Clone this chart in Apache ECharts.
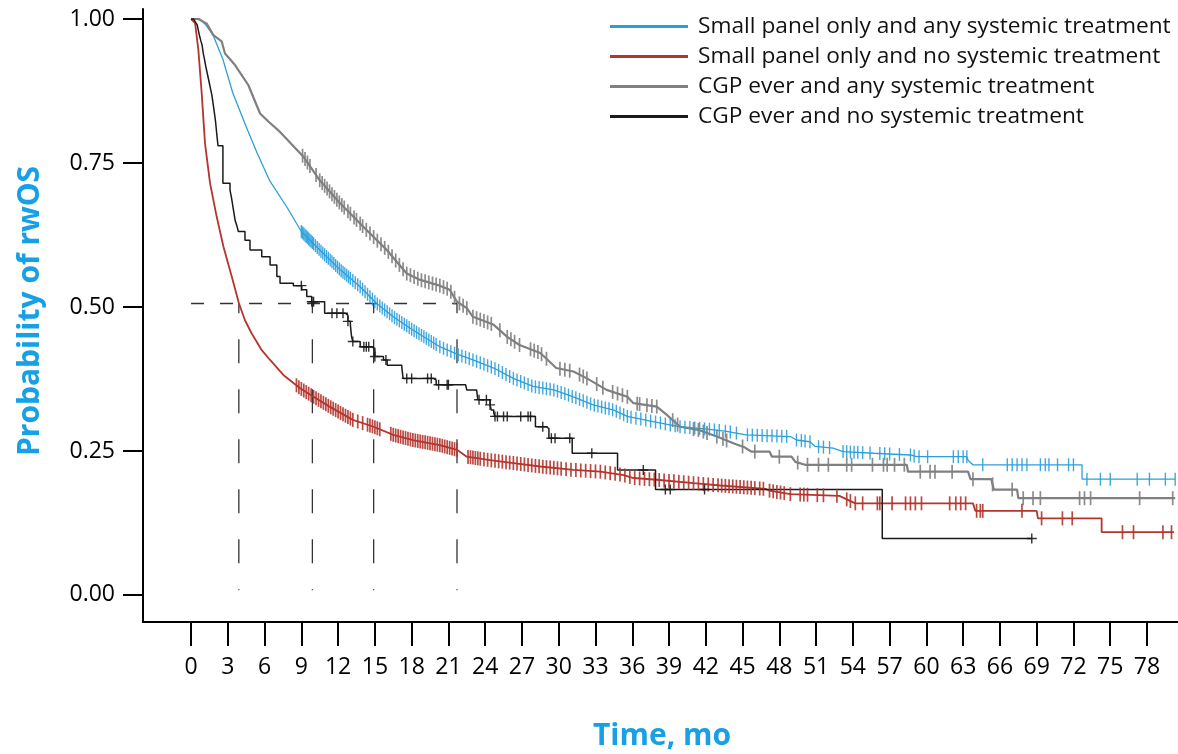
<!DOCTYPE html>
<html><head><meta charset="utf-8">
<script src="https://cdn.jsdelivr.net/npm/echarts@6/dist/echarts.min.js"></script>
<style>html,body{margin:0;padding:0;background:#fff}#c{width:1178px;height:754px}</style>
</head><body><div id="c"></div>
<script>
const seriesNames = [
  'Small panel only and any systemic treatment',
  'Small panel only and no systemic treatment',
  'CGP ever and any systemic treatment',
  'CGP ever and no systemic treatment'
];
const xTicks = [0,3,6,9,12,15,18,21,24,27,30,33,36,39,42,45,48,51,54,57,60,63,66,69,72,75,78];
const yTicks = [0,0.25,0.5,0.75,1];

const blueCurve = [[0,1],[0.7,1.0],[1.2,0.99],[1.8,0.972],[2.6,0.93],[3.4,0.872],[4.5,0.813],[5.4,0.767],[6.4,0.72],[7.8,0.674],[9.0,0.631],[10.5,0.599],[12.2,0.564],[13.8,0.535],[15.1,0.507],[16.5,0.483],[18.1,0.46],[20.3,0.431],[21.7,0.418],[23.0,0.408],[24.7,0.394],[26.3,0.376],[27.9,0.362],[29.6,0.356],[31.2,0.344],[32.8,0.33],[34.5,0.321],[35.6,0.31],[37.7,0.301],[39.9,0.292],[42.1,0.288],[43.7,0.284],[45.3,0.278],[48.9,0.275],[49.4,0.269],[50.5,0.266],[50.9,0.258],[52.4,0.255],[53.2,0.249],[55.7,0.246],[58.7,0.243],[59.2,0.24],[63.3,0.24],[63.4,0.234],[63.8,0.226],[72.7,0.226],[72.7,0.201],[80.3,0.201]];
const redCurve = [[0,1],[0.33,0.993],[0.6,0.946],[0.87,0.871],[1.14,0.784],[1.55,0.715],[2.09,0.657],[2.64,0.605],[3.32,0.553],[3.9,0.507],[4.4,0.477],[4.95,0.454],[5.77,0.425],[6.45,0.408],[7.53,0.382],[8.9,0.359],[10.0,0.344],[11.3,0.327],[13.2,0.304],[14.9,0.292],[16.5,0.278],[18.1,0.269],[20.3,0.26],[21.7,0.252],[22.5,0.24],[24.4,0.234],[26.3,0.229],[28.5,0.223],[31.2,0.217],[33.4,0.214],[35.3,0.208],[36.1,0.203],[38.0,0.2],[41.0,0.194],[43.2,0.19],[46.9,0.184],[47.2,0.181],[48.9,0.175],[52.9,0.172],[54.2,0.159],[63.8,0.159],[64.0,0.146],[69.0,0.146],[69.1,0.133],[74.3,0.133],[74.3,0.109],[80.2,0.109]];
const grayCurve = [[0,1],[0.6,1.0],[1.28,0.992],[1.82,0.972],[2.5,0.961],[2.77,0.94],[3.59,0.92],[4.68,0.885],[5.63,0.836],[6.31,0.822],[7.26,0.804],[9.17,0.761],[10.5,0.72],[12.16,0.68],[14.3,0.634],[15.97,0.599],[17.6,0.558],[18.7,0.547],[20.3,0.537],[21.1,0.53],[21.7,0.509],[22.5,0.498],[23.0,0.483],[24.7,0.469],[25.8,0.448],[26.8,0.434],[28.5,0.42],[29.8,0.394],[31.2,0.388],[32.3,0.376],[33.9,0.356],[35.6,0.344],[36.1,0.333],[38.0,0.327],[38.8,0.313],[39.9,0.292],[41.5,0.286],[42.9,0.275],[44.3,0.263],[45.1,0.257],[45.7,0.249],[47.2,0.249],[47.4,0.24],[49.0,0.24],[49.3,0.231],[50.1,0.226],[58.4,0.226],[58.5,0.214],[63.4,0.214],[63.6,0.201],[65.3,0.201],[65.5,0.183],[67.4,0.183],[67.5,0.168],[80.3,0.168]];
const blackCurve = [[0,1],[0.2,0.999],[0.35,0.995],[0.5,0.99],[0.6,0.98],[0.7,0.97],[0.8,0.962],[0.9,0.955],[1.0,0.94],[1.1,0.93],[1.2,0.918],[1.3,0.908],[1.4,0.898],[1.5,0.888],[1.6,0.878],[1.7,0.868],[1.8,0.853],[1.9,0.838],[2.0,0.822],[2.1,0.8],[2.2,0.78],[2.6,0.715],[3.18,0.703],[3.3,0.69],[3.45,0.67],[3.6,0.65],[3.75,0.64],[3.86,0.631],[4.4,0.616],[4.81,0.599],[5.77,0.587],[6.45,0.573],[7.0,0.553],[7.26,0.541],[8.35,0.537],[9.03,0.53],[9.44,0.518],[9.85,0.509],[10.9,0.489],[12.6,0.486],[12.8,0.475],[13.0,0.469],[13.1,0.448],[13.2,0.44],[13.8,0.431],[14.7,0.428],[15.0,0.414],[15.7,0.408],[16.0,0.399],[17.2,0.395],[17.3,0.376],[19.8,0.373],[20.0,0.365],[22.4,0.362],[22.5,0.356],[23.3,0.353],[23.4,0.339],[24.4,0.33],[24.5,0.321],[24.7,0.316],[24.8,0.31],[28.1,0.292],[29.0,0.289],[29.2,0.272],[31.1,0.246],[34.8,0.217],[37.9,0.183],[56.4,0.098],[68.6,0.098]];

const blueCensor = [9.0,9.1,9.2,9.3,9.4,9.5,9.6,9.7,9.8,9.9,10.0,10.15,10.3,10.45,10.6,10.75,10.9,11.05,11.2,11.35,11.5,11.65,11.8,11.95,12.1,12.25,12.4,12.55,12.7,12.85,13.0,13.2,13.4,13.6,13.8,14.0,14.2,14.4,14.6,14.8,15.0,15.2,15.4,15.6,15.8,16.0,16.2,16.4,16.6,16.8,17.0,17.2,17.4,17.6,17.8,18.0,18.2,18.4,18.6,18.8,19.0,19.2,19.4,19.6,19.8,20.0,20.3,20.6,20.9,21.2,21.5,21.8,22.1,22.4,22.7,23.0,23.3,23.6,23.9,24.2,24.5,24.8,25.1,25.4,25.7,26.0,26.3,26.6,26.9,27.2,27.5,27.8,28.1,28.4,28.7,29.0,29.3,29.6,29.9,30.2,30.5,30.8,31.1,31.4,31.7,32.0,32.3,32.6,32.9,33.2,33.5,33.8,34.1,34.4,34.7,35.0,35.3,35.6,35.9,36.3,36.7,37.1,37.5,37.9,38.3,38.7,39.1,39.5,39.9,40.3,40.7,41.1,41.5,41.9,42.3,42.7,43.1,43.6,44.0,44.5,45.4,45.8,46.2,46.6,47.0,47.4,47.8,48.2,48.6,49.4,49.8,50.1,50.5,51.2,51.6,52.1,53.2,53.5,53.8,54.1,54.4,54.8,55.4,56.2,56.6,57.0,57.8,58.7,59.0,59.4,60.1,62.2,62.6,63.0,63.3,64.6,66.6,67.0,67.4,67.8,68.2,69.3,69.7,70.0,70.7,71.6,72.0,73.1,74.2,75.0,77.2,78.2,79.5,80.3];
const redCensor = [8.6,8.8,9.0,9.2,9.4,9.6,9.8,10.0,10.2,10.4,10.6,10.8,11.0,11.2,11.4,11.6,11.8,12.0,12.2,12.4,12.6,12.8,13.0,13.2,13.6,14.0,14.4,14.6,14.8,15.0,15.2,15.4,16.3,16.5,16.7,16.9,17.1,17.3,17.5,17.7,17.9,18.1,18.3,18.5,18.7,18.9,19.1,19.3,19.5,19.7,19.9,20.1,20.3,20.5,20.7,20.9,21.1,21.3,21.5,21.7,22.6,22.8,23.0,23.2,23.4,23.6,23.9,24.2,24.5,24.8,25.1,25.4,25.7,26.0,26.3,26.6,26.9,27.2,27.5,27.8,28.1,28.4,28.7,29.0,29.3,29.6,29.9,30.2,30.6,31.0,31.4,31.8,32.2,32.6,33.0,33.4,33.8,34.2,34.6,35.0,35.4,35.8,36.2,36.6,37.0,37.4,37.8,38.2,38.6,39.0,39.4,39.8,40.2,40.6,41.0,41.4,41.8,42.2,42.6,43.0,43.3,43.6,43.9,44.2,44.5,44.8,45.1,45.4,45.7,46.0,46.4,46.7,47.2,47.5,47.8,48.1,48.4,48.9,49.7,50.0,50.3,51.1,51.6,52.7,53.5,53.8,54.2,54.8,56.0,56.2,57.2,58.3,58.7,59.1,59.6,61.9,62.4,62.8,63.2,64.1,64.4,64.6,67.8,69.4,71.1,71.9,76.0,76.9,79.3,80.0];
const grayCensor = [9.1,9.3,9.5,9.7,10.2,10.5,10.7,10.9,11.1,11.3,11.5,11.7,11.9,12.1,12.3,12.5,12.8,13.0,13.3,13.5,13.8,14.0,14.3,14.6,14.9,15.2,15.5,15.8,16.1,16.4,16.7,17.0,17.3,17.6,17.9,18.2,18.5,18.8,19.1,19.4,19.7,20.0,20.3,20.6,20.9,21.2,21.5,21.9,22.2,22.5,23.0,23.3,23.6,23.9,24.2,24.5,25.2,25.8,26.1,26.4,26.8,27.7,28.0,28.3,28.6,29.0,30.1,30.5,30.9,31.7,32.0,32.3,33.1,33.6,34.4,34.8,35.2,35.6,36.4,36.6,37.2,37.6,38.0,39.3,39.7,41.0,41.4,41.8,42.1,42.9,43.4,43.7,45.0,46.0,48.0,49.5,50.3,51.2,52.0,53.5,53.9,55.6,56.5,56.8,57.4,58.2,59.5,60.3,60.7,62.1,63.8,65.4,67.0,67.9,68.7,69.3,72.5,72.9,73.4,77.4,80.1];
const blackCensor = [9.0,9.85,10.0,11.5,11.9,12.4,12.8,13.2,14.1,14.3,14.5,15.0,15.9,17.6,18.0,19.3,19.6,20.2,20.9,21.0,23.5,24.1,24.4,24.8,25.0,25.5,25.8,26.9,27.5,27.7,28.7,29.4,29.7,30.9,32.7,36.9,38.7,39.1,41.9,68.6];

const medianTimes = [3.9, 9.9, 14.9, 21.7];
const medianLevel = 0.506;

const colors = ['#2b9fdb', '#b3352d', '#808080', '#1a1a1a'];
const FONT = 'Open Sans';

function levelAt(curve, t, step) {
  if (step) {
    let v = curve[0][1];
    for (const p of curve) { if (p[0] <= t) v = p[1]; else break; }
    return v;
  }
  for (let i = 0; i < curve.length - 1; i++) {
    const a = curve[i], b = curve[i + 1];
    if (t >= a[0] && t <= b[0]) {
      if (b[0] === a[0]) return b[1];
      return a[1] + (b[1] - a[1]) * (t - a[0]) / (b[0] - a[0]);
    }
  }
  return curve[curve.length - 1][1];
}

const curves = [blueCurve, redCurve, grayCurve, blackCurve];
const censors = [blueCensor, redCensor, grayCensor, blackCensor];
const widths = [1.3, 1.8, 2.2, 1.5];
const steps = [false, false, false, true];
const censorSize = [[1.4, 13], [1.7, 14], [1.7, 14], [10, 10]];
const plusPath = 'path://M4.3,0 h1.4 v10 h-1.4 z M0,4.3 h10 v1.4 h-10 z';

const series = [];
curves.forEach((c, i) => {
  series.push({
    name: seriesNames[i], type: 'line', data: c, showSymbol: false, symbol: 'none',
    step: steps[i] ? 'end' : false, animation: false, silent: true,
    lineStyle: { color: colors[i], width: widths[i] }, itemStyle: { color: colors[i] }, z: 3
  });
});
censors.forEach((c, i) => {
  series.push({
    name: seriesNames[i] + ' censored', type: 'scatter', animation: false, silent: true,
    data: c.map(t => [t, levelAt(curves[i], t, steps[i])]),
    symbol: i === 3 ? plusPath : 'rect', symbolSize: censorSize[i],
    itemStyle: { color: colors[i], opacity: 0.9 }, z: 4
  });
});
series.push({
  type: 'line', data: [[0, medianLevel], [medianTimes[3], medianLevel]], symbol: 'none', animation: false, silent: true,
  lineStyle: { color: '#333', width: 1.5, type: [13, 16] }, z: 2
});
medianTimes.forEach(m => {
  series.push({
    type: 'line', data: [[m, 0.008], [m, medianLevel]], symbol: 'none', animation: false, silent: true,
    lineStyle: { color: '#333', width: 1.3, type: [24, 26], dashOffset: 23 }, z: 2
  });
});

const chart = echarts.init(document.getElementById('c'), null, { renderer: 'canvas' });
chart.setOption({
  backgroundColor: '#fff',
  animation: false,
  grid: { left: 143, right: 0, top: 9, bottom: 132, containLabel: false },
  legend: {
    data: seriesNames, orient: 'vertical', left: 605, top: 10, icon: 'rect',
    itemWidth: 78, itemHeight: 3, itemGap: 7, selectedMode: false,
    textStyle: { fontSize: 22.7, fontFamily: FONT, color: '#111', lineHeight: 23, padding: [0, 0, 0, 5] }
  },
  xAxis: {
    type: 'value', min: -3.92, max: 80.53,
    axisLine: { show: true, onZero: false, lineStyle: { color: '#000', width: 2 } },
    axisTick: { show: true, customValues: xTicks, length: 24, lineStyle: { color: '#000', width: 2 } },
    axisLabel: { customValues: xTicks, margin: 34, fontSize: 23, fontFamily: FONT, color: '#000' },
    splitLine: { show: false }
  },
  yAxis: {
    type: 'value', min: -0.047, max: 1.0174,
    axisLine: { show: true, onZero: false, lineStyle: { color: '#000', width: 2 } },
    axisTick: { show: true, customValues: yTicks, length: 20, lineStyle: { color: '#000', width: 2 } },
    axisLabel: { customValues: yTicks, margin: 28, fontSize: 23, fontFamily: FONT, color: '#000', formatter: v => v.toFixed(2) },
    splitLine: { show: false }
  },
  graphic: [
    { type: 'text', style: { text: 'Time, mo', fill: '#17a0e6', font: 'bold 30px "Open Sans"', textAlign: 'center', textVerticalAlign: 'middle', x: 662, y: 736 } },
    { type: 'text', x: 30, y: 311, rotation: Math.PI / 2, style: { text: 'Probability of rwOS', fill: '#17a0e6', font: 'bold 30px "Open Sans"', textAlign: 'center', textVerticalAlign: 'middle' } }
  ],
  series: series
});
</script>
</body></html>
